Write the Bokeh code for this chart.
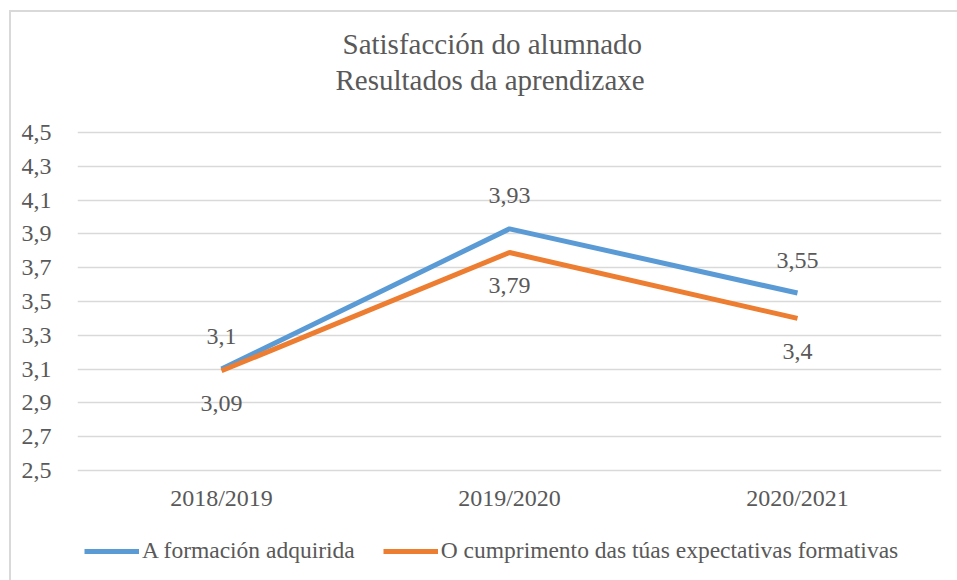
from bokeh.plotting import figure
from bokeh.layouts import column
from bokeh.models import (ColumnDataSource, FixedTicker, CustomJSTickFormatter,
                          Legend, LegendItem, Title, Range1d)
from bokeh.core.properties import value
from bokeh.embed import file_html
from bokeh.resources import INLINE

# ---- data ----
years = ["2018/2019", "2019/2020", "2020/2021"]
formacion = [3.10, 3.93, 3.55]
cumprimento = [3.09, 3.79, 3.40]
y_ticks = [2.5, 2.7, 2.9, 3.1, 3.3, 3.5, 3.7, 3.9, 4.1, 4.3, 4.5]
series_names = ["A formación adquirida",
                "O cumprimento das túas expectativas formativas"]
title_lines = ["Satisfacción do alumnado", "Resultados da aprendizaxe"]

FONT = "Liberation Serif"
TXT = "#595959"
BLUE = "#5B9BD5"
ORANGE = "#ED7D31"
GRID = "#D9D9D9"
W = 946


def fmt(v):
    s = ("%.2f" % v).rstrip("0").rstrip(".")
    return s.replace(".", ",")


src_a = ColumnDataSource(dict(x=years, y=formacion, lab=[fmt(v) for v in formacion]))
src_b = ColumnDataSource(dict(x=years, y=cumprimento, lab=[fmt(v) for v in cumprimento]))

p = figure(x_range=years, y_range=(2.488, 4.512), width=W, height=510,
           output_backend="svg", toolbar_location=None,
           min_border_left=66, min_border_right=16, min_border_top=118,
           min_border_bottom=50)
p.outline_line_color = None
p.background_fill_color = "white"
p.border_fill_color = "white"

# titles (first added is closest to the plot); a blank line keeps the gap
spacer = Title(text=" ", align="center", text_font=FONT, text_font_size="29px",
               text_color=TXT, standoff=0)
t2 = Title(text=title_lines[1], align="left", text_font=FONT, text_font_size="29px",
           text_color=TXT, text_font_style="normal", offset=258, standoff=2)
t1 = Title(text=title_lines[0], align="left", text_font=FONT, text_font_size="29px",
           text_color=TXT, text_font_style="normal", offset=265, standoff=2)
p.add_layout(spacer, "above")
p.add_layout(t2, "above")
p.add_layout(t1, "above")

# axes
p.yaxis.ticker = FixedTicker(ticks=y_ticks)
p.yaxis.formatter = CustomJSTickFormatter(code="return tick.toFixed(1).replace('.', ',');")
for ax in (p.xaxis, p.yaxis):
    ax.axis_line_color = None
    ax.major_tick_line_color = None
    ax.minor_tick_line_color = None
    ax.major_label_text_font = FONT
    ax.major_label_text_font_size = "24px"
    ax.major_label_text_color = TXT
p.yaxis.major_label_standoff = 20
p.xaxis.major_label_standoff = 6

p.xgrid.grid_line_color = None
p.ygrid.grid_line_color = GRID
p.ygrid.grid_line_width = 1.5

# lines
ra = p.line("x", "y", source=src_a, line_color=BLUE, line_width=5)
rb = p.line("x", "y", source=src_b, line_color=ORANGE, line_width=5)

# data labels
p.text("x", "y", text="lab", source=src_a, y_offset=-33, text_align="center",
       text_baseline="middle", text_font=value(FONT), text_font_size="24px",
       text_color=TXT)
p.text("x", "y", text="lab", source=src_b, y_offset=33, text_align="center",
       text_baseline="middle", text_font=value(FONT), text_font_size="24px",
       text_color=TXT)

# legend strip below the chart (same series, drawn out of its view)
q = figure(width=W, height=58, x_range=p.x_range, y_range=Range1d(10, 11),
           x_axis_type=None, y_axis_type=None, output_backend="svg",
           toolbar_location=None, min_border=0)
q.outline_line_color = None
q.xgrid.visible = False
q.ygrid.visible = False
la = q.line("x", "y", source=src_a, line_color=BLUE, line_width=5)
lb = q.line("x", "y", source=src_b, line_color=ORANGE, line_width=5)
legend = Legend(items=[LegendItem(label=series_names[0], renderers=[la]),
                       LegendItem(label=series_names[1], renderers=[lb])],
                orientation="horizontal", location=(7, 16),
                label_text_font=FONT, label_text_font_size="23.5px",
                label_text_color=TXT, glyph_width=55, label_standoff=3,
                spacing=28, border_line_color=None, padding=0, margin=0,
                background_fill_alpha=0)
q.add_layout(legend, "center")

layout = column(p, q, spacing=0, margin=(10, 0, 0, 9),
                styles={"border-left": "2px solid #D9D9D9",
                        "border-top": "2px solid #D9D9D9"})

open("out.html", "w").write(file_html(layout, INLINE))
